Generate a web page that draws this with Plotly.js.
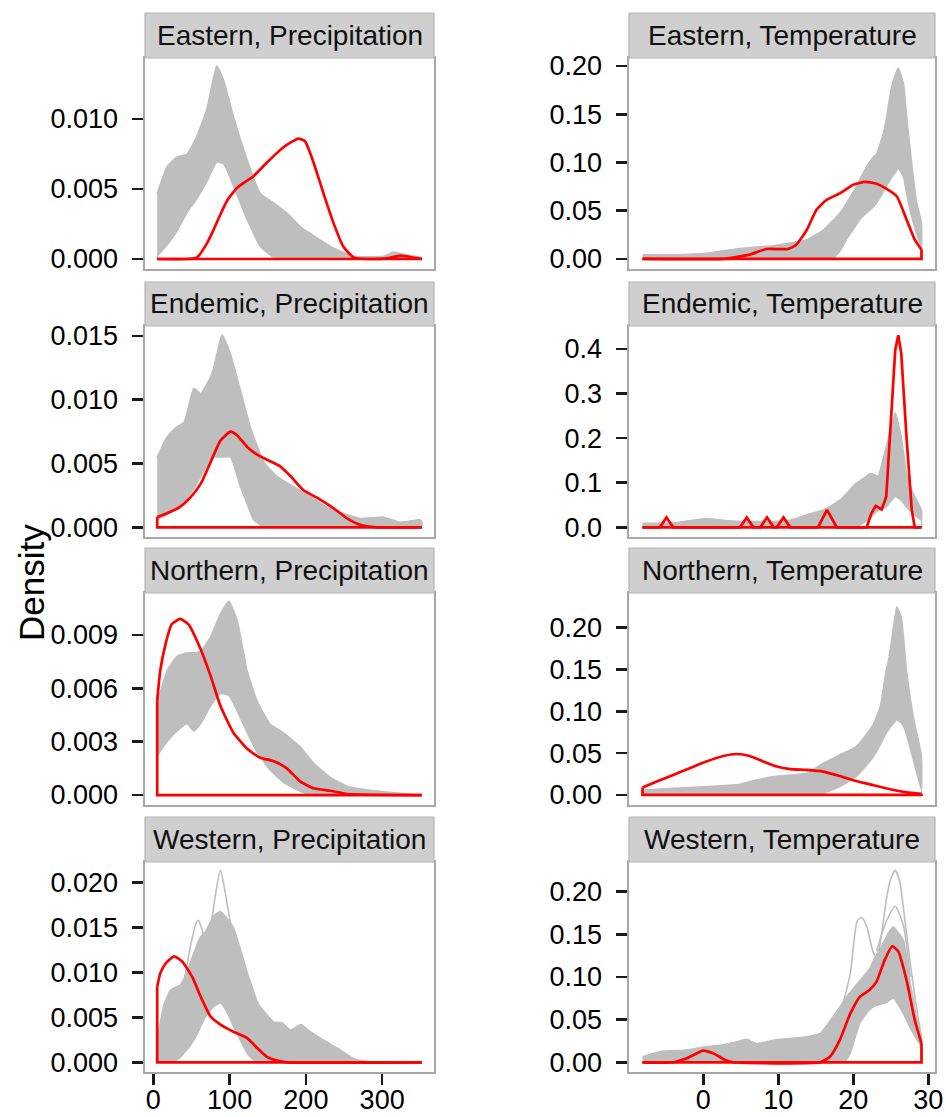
<!DOCTYPE html>
<html><head><meta charset="utf-8">
<script src="https://cdn.plot.ly/plotly-3.0.1.min.js"></script>
<style>html,body{margin:0;padding:0;background:#fff}#chart{width:946px;height:1117px}</style>
</head><body><div id="chart"></div>
<script>
// ---------- DATA ----------
const stripLabels = ["Eastern, Precipitation","Eastern, Temperature","Endemic, Precipitation","Endemic, Temperature","Northern, Precipitation","Northern, Temperature","Western, Precipitation","Western, Temperature"];
const yAxisTitle = "Density";
const precipTicks = [0,100,200,300];
const tempTicks = [0,10,20,30];

// Eastern, Precipitation
const epX = [5,18,31,44,57,70,83,92,105,123,140,158,175,193,215,236,263,302,315,332,352];
const epUpper = [0.0047,0.0066,0.0073,0.0075,0.0088,0.0107,0.0138,0.0128,0.0102,0.0071,0.0047,0.0040,0.0033,0.0023,0.0015,0.0008,0.0002,0.0002,0.0005,0.0003,0.0001];
const epLower = [0.0002,0.0010,0.0020,0.0033,0.0043,0.0055,0.0069,0.0068,0.0052,0.0028,0.0009,0.0001,0,0,0,0,0,0,0,0,0];
const epRedX = [5,44,57,70,79,88,97,110,120,131,149,171,190,199,210,223,236,249,263,290,306,324,340,352];
const epRedY = [0,0,0.0001,0.0011,0.0021,0.0032,0.0042,0.0051,0.0055,0.0059,0.0069,0.0080,0.0086,0.0084,0.0069,0.0047,0.0026,0.0009,0.0001,0,0.00005,0.00024,0.0001,0];

// Eastern, Temperature
const etX = [-8.1,-4,0.4,4.9,9.3,11.6,13.8,16,17.3,18.2,19.1,20.4,20.9,21.8,22.7,23.1,24,24.4,25.1,25.8,26,26.7,27.1,27.6,28.4,29.1];
const etUpper = [0.0045,0.0045,0.006,0.011,0.0138,0.0165,0.020,0.030,0.040,0.0475,0.058,0.075,0.083,0.096,0.106,0.109,0.130,0.145,0.178,0.195,0.198,0.182,0.150,0.113,0.061,0.037];
const etLower = [0,0,0,0,0,0,0,0,0,0.008,0.020,0.035,0.041,0.048,0.054,0.058,0.069,0.075,0.084,0.092,0.094,0.085,0.068,0.050,0.027,0.013];
const etRedX = [-8.1,2.7,4,6.2,8.4,11.3,12.4,13.8,15.1,16.4,18.2,20,21.6,23.1,24.4,25.8,27.1,28.2,29.1];
const etRedY = [0,0,0.0014,0.0045,0.0103,0.0103,0.0148,0.030,0.051,0.061,0.068,0.077,0.080,0.078,0.073,0.065,0.041,0.020,0.0096];

// Endemic, Precipitation
const dpX = [5,18,31,40,53,62,75,79,90,101,114,127,131,145,162,184,206,227,249,271,302,324,348,352];
const dpUpper = [0.0055,0.0071,0.0079,0.0082,0.0109,0.0105,0.0118,0.0125,0.0151,0.0136,0.0108,0.0079,0.0072,0.0051,0.0040,0.0032,0.0024,0.0016,0.0011,0.0007,0.0008,0.0004,0.0006,0.0005];
const dpLower = [0.0006,0.0010,0.0016,0.0020,0.0030,0.0040,0.0052,0.0055,0.0055,0.0055,0.0032,0.0012,0.0006,0,0,0,0,0,0,0,0,0,0,0];
const dpRedX = [5,18,35,48,62,75,88,101,110,123,136,149,166,180,197,215,236,254,271,293,352];
const dpRedY = [0.0008,0.0011,0.0016,0.0023,0.0034,0.0051,0.0068,0.0075,0.0072,0.0063,0.0057,0.0053,0.0048,0.0040,0.0029,0.0023,0.0015,0.0007,0.0002,0,0];

// Endemic, Temperature
const dtX = [-8.1,-4,0.4,3.1,7.1,11.6,13.8,16,18.2,20.4,21.8,22.2,23.1,23.3,24.4,25.6,26.4,26.7,27.1,28,29.1];
const dtUpper = [0.009,0.010,0.020,0.015,0.013,0.016,0.028,0.039,0.061,0.099,0.115,0.121,0.116,0.114,0.181,0.257,0.203,0.170,0.121,0.076,0.039];
const dtLower = [0,0,0,0,0,0,0,0,0,0,0.015,0.020,0.035,0.037,0.046,0.069,0.060,0.054,0.045,0.031,0.016];
const dtRedX = [-8.1,-5.8,-4.9,-4,4.9,5.8,6.7,7.6,8.5,9.4,9.8,10.7,11.6,15.3,16.5,17.8,21.8,22.4,23,23.8,24.4,25.1,25.6,26,26.4,27.1,27.8,28.2,29.1];
const dtRedY = [0,0,0.022,0,0,0.022,0,0,0.022,0,0,0.022,0,0,0.039,0,0,0.031,0.048,0.040,0.069,0.256,0.398,0.431,0.390,0.203,0.039,0,0];

// Northern, Precipitation
const npX = [5,18,31,44,53,62,75,88,99,110,123,136,153,171,193,210,232,254,280,324,352];
const npUpper = [0.0052,0.0070,0.0078,0.0080,0.0080,0.0081,0.0089,0.0102,0.0109,0.0098,0.0070,0.0053,0.0040,0.0035,0.0027,0.0018,0.0010,0.0005,0.0003,0.0001,0];
const npLower = [0.0022,0.0030,0.0036,0.0040,0.0036,0.0040,0.0050,0.0057,0.0056,0.0047,0.0035,0.0024,0.0014,0.0007,0.0002,0,0,0,0,0,0];
const npRedX = [5,9,16,24,35,46,62,75,88,105,123,140,158,175,193,210,232,254,352];
const npRedY = [0.0053,0.0070,0.0085,0.0096,0.0099,0.0096,0.0082,0.0067,0.0050,0.0035,0.0026,0.0021,0.0019,0.0015,0.00075,0.00038,0.00024,0.00006,0];

// Northern, Temperature
const ntX = [-8.1,-4,0.4,4.9,7.1,9.3,13.8,16,18.2,20.4,22.2,22.7,23.6,24.4,24.7,25.6,25.8,26.4,26.7,27.1,28,29.1];
const ntUpper = [0.006,0.008,0.010,0.013,0.018,0.022,0.026,0.038,0.048,0.058,0.078,0.085,0.106,0.150,0.161,0.215,0.225,0.213,0.190,0.149,0.094,0.046];
const ntLower = [0,0,0,0,0,0,0,0.002,0.010,0.022,0.040,0.046,0.060,0.074,0.078,0.088,0.090,0.086,0.082,0.072,0.042,0.006];
const ntRedX = [-8.1,-6.2,-4,-1.8,0.4,2.7,4.4,6.2,8,9.8,11.6,13.8,16,18.2,20.4,22.7,24.9,27.1,29.1];
const ntRedY = [0.0088,0.016,0.024,0.032,0.040,0.0466,0.049,0.0466,0.040,0.034,0.031,0.030,0.028,0.0227,0.0167,0.0116,0.0068,0.0032,0.0012];

// Western, Precipitation
const wpX = [5,14,22,27,35,44,48,59,62,68,77,79,88,97,105,118,123,127,136,140,158,169,180,193,206,223,241,263,280,352];
const wpUpper = [0.0025,0.0065,0.0080,0.0083,0.0086,0.0100,0.0110,0.0135,0.0140,0.0145,0.0160,0.0163,0.0168,0.0160,0.0150,0.0115,0.0100,0.0090,0.0068,0.0062,0.0045,0.0044,0.0036,0.0042,0.0034,0.0025,0.0016,0.0004,0.0001,0];
const wpLower = [0,0,0,0.0001,0.0005,0.0014,0.0018,0.0034,0.0040,0.0050,0.0060,0.0062,0.0066,0.0055,0.0040,0.0018,0.0010,0.0006,0,0,0,0,0,0,0,0,0,0,0,0];
const wpSpikeAX = [40,55,65,75,82,88,94,100,108,118,130,145];
const wpSpikeAY = [0.0040,0.0080,0.0110,0.0150,0.0190,0.0214,0.0190,0.0160,0.0120,0.0080,0.0050,0.0020];
const wpSpikeBX = [30,40,50,56,59,63,68,75];
const wpSpikeBY = [0.0050,0.0090,0.0135,0.0155,0.0158,0.0150,0.0138,0.0145];
const wpRedX = [5,9,16,27,38,51,62,75,88,105,123,136,149,162,175,352];
const wpRedY = [0.0084,0.0099,0.0110,0.0118,0.0112,0.0095,0.0073,0.0051,0.0042,0.0034,0.0027,0.0016,0.0006,0.0002,0,0];

// Western, Temperature
const wtX = [-8.1,-5.8,-2.2,0,2.2,4.4,5.8,7.1,9.3,11.6,13.8,15.6,17.3,18.2,19.1,19.6,20.9,22.2,22.7,24,24.4,25.3,26.7,27.6,28,28.4,29.1];
const wtUpper = [0.0066,0.0125,0.0145,0.018,0.020,0.024,0.027,0.022,0.026,0.028,0.030,0.034,0.0535,0.065,0.077,0.082,0.096,0.110,0.120,0.140,0.147,0.159,0.143,0.0925,0.075,0.0535,0.030];
const wtLower = [0,0,0,0,0,0,0,0,0,0,0,0,0,0,0.003,0.0105,0.046,0.062,0.065,0.069,0.070,0.075,0.057,0.040,0.034,0.028,0.018];
const wtSpikeAX = [17.3,18.2,19.6,20.5,21.1,21.8,22.7,23.5,24.4,25.3];
const wtSpikeAY = [0.045,0.057,0.104,0.165,0.170,0.159,0.128,0.120,0.135,0.150];
const wtSpikeBX = [22.7,23.6,24.4,25.0,25.6,26.2,26.7,27.4,28,28.6,29.1];
const wtSpikeBY = [0.110,0.140,0.190,0.215,0.225,0.212,0.180,0.130,0.090,0.055,0.030];
const wtSpikeCX = [23.1,24.4,25.6,26.7,27.6];
const wtSpikeCY = [0.130,0.165,0.183,0.160,0.100];
const wtRedX = [-8.1,-4,-2.2,0,1.3,3.1,4,15.6,16.9,18.2,19.6,20.9,22.2,23.1,24.2,25.2,26,27.1,28.2,29.1];
const wtRedY = [0,0,0.0047,0.0137,0.0105,0.002,0,0,0.0066,0.026,0.057,0.077,0.085,0.0945,0.120,0.136,0.130,0.0965,0.0496,0.022];

// ---------- BUILD ----------
const panels = [
  {x:epX,u:epUpper,l:epLower,rx:epRedX,ry:epRedY,spikes:[],yr:[-0.000714,0.01436],dt:0.005,fmt:'.3f',smooth:true},
  {x:etX,u:etUpper,l:etLower,rx:etRedX,ry:etRedY,spikes:[],yr:[-0.0104,0.2083],dt:0.05,fmt:'.2f',smooth:true},
  {x:dpX,u:dpUpper,l:dpLower,rx:dpRedX,ry:dpRedY,spikes:[],yr:[-0.00076,0.01578],dt:0.005,fmt:'.3f',smooth:true},
  {x:dtX,u:dtUpper,l:dtLower,rx:dtRedX,ry:dtRedY,spikes:[],yr:[-0.0218,0.4516],dt:0.1,fmt:'.1f',smooth:false},
  {x:npX,u:npUpper,l:npLower,rx:npRedX,ry:npRedY,spikes:[],yr:[-0.00056,0.01136],dt:0.003,fmt:'.3f',smooth:true},
  {x:ntX,u:ntUpper,l:ntLower,rx:ntRedX,ry:ntRedY,spikes:[],yr:[-0.012,0.2415],dt:0.05,fmt:'.2f',smooth:true},
  {x:wpX,u:wpUpper,l:wpLower,rx:wpRedX,ry:wpRedY,spikes:[[wpSpikeAX,wpSpikeAY],[wpSpikeBX,wpSpikeBY]],yr:[-0.00108,0.0223],dt:0.005,fmt:'.3f',smooth:true},
  {x:wtX,u:wtUpper,l:wtLower,rx:wtRedX,ry:wtRedY,spikes:[[wtSpikeAX,wtSpikeAY],[wtSpikeBX,wtSpikeBY],[wtSpikeCX,wtSpikeCY]],yr:[-0.0114,0.2348],dt:0.05,fmt:'.2f',smooth:true}
];

const W = 946, H = 1117;
const colPx = [[145,434],[629,935]];
const rowPx = [[58,269],[326,537],[593,805],[862,1072]];
const stripPx = [[13,58],[282,326],[548,593],[817,862]];
const xRanges = [[-11,368],[-9.9,30.9]];
const GRAY = '#bebebe', RED = '#ff0000';
const FONT = 'Liberation Sans, Arial, sans-serif';

const traces = [];
const layout = {
  width: W, height: H, margin: {l:0,r:0,t:0,b:0},
  paper_bgcolor: '#fff', plot_bgcolor: '#fff', showlegend: false,
  font: {family: FONT, color: '#000'},
  shapes: [], annotations: []
};

panels.forEach((p, i) => {
  const r = Math.floor(i/2), c = i % 2;
  const n = i + 1;
  const xa = 'x' + (n === 1 ? '' : n), ya = 'y' + (n === 1 ? '' : n);
  const last = p.x.length - 1;
  // gray band (envelope of the null-model densities)
  traces.push({x: p.x.concat(p.x.slice().reverse()), y: p.u.concat(p.l.slice().reverse()),
    xaxis: xa, yaxis: ya, mode: 'lines', fill: 'toself', fillcolor: GRAY,
    line: {color: GRAY, width: 1.4, shape: 'spline', smoothing: 0.45}, hoverinfo: 'skip'});
  traces.push({x: [p.x[0], p.x[0], p.x[last], p.x[last]], y: [p.l[0], 0, 0, p.l[last]],
    xaxis: xa, yaxis: ya, mode: 'lines', line: {color: GRAY, width: 1.4}, hoverinfo: 'skip'});
  p.spikes.forEach(s => {
    traces.push({x: s[0], y: s[1], xaxis: xa, yaxis: ya, mode: 'lines',
      line: {color: GRAY, width: 1.6, shape: 'spline', smoothing: 0.6}, hoverinfo: 'skip'});
  });
  // red observed density
  const rl = p.rx.length - 1;
  traces.push({x: p.rx, y: p.ry, xaxis: xa, yaxis: ya, mode: 'lines',
    line: p.smooth ? {color: RED, width: 2.7, shape: 'spline', smoothing: 0.5} : {color: RED, width: 2.7},
    hoverinfo: 'skip'});
  traces.push({x: [p.rx[rl], p.rx[rl], p.rx[0], p.rx[0]], y: [p.ry[rl], 0, 0, p.ry[0]],
    xaxis: xa, yaxis: ya, mode: 'lines', line: {color: RED, width: 2.7}, hoverinfo: 'skip'});

  const bottom = r === 3;
  layout['xaxis' + (n === 1 ? '' : n)] = {
    domain: [colPx[c][0]/W, colPx[c][1]/W], range: xRanges[c], anchor: ya,
    showline: true, mirror: true, linecolor: '#a8a8a8', linewidth: 1.6,
    showgrid: false, zeroline: false,
    ticks: bottom ? 'outside' : '', tickvals: c === 0 ? precipTicks : tempTicks,
    ticklen: 11, tickwidth: 2.6, tickcolor: '#1a1a1a',
    showticklabels: bottom, ticklabelstandoff: -8,
    tickfont: {family: FONT, size: 27, color: '#000'}
  };
  layout['yaxis' + (n === 1 ? '' : n)] = {
    domain: [1 - rowPx[r][1]/H, 1 - rowPx[r][0]/H], range: p.yr, anchor: xa,
    showline: true, mirror: true, linecolor: '#a8a8a8', linewidth: 1.6,
    showgrid: false, zeroline: false,
    ticks: 'outside', tick0: 0, dtick: p.dt, tickformat: p.fmt,
    ticklen: 11, tickwidth: 2.6, tickcolor: '#1a1a1a', ticklabelstandoff: 9,
    tickfont: {family: FONT, size: 27, color: '#000'}
  };
  // facet strip
  layout.shapes.push({type: 'rect', xref: 'paper', yref: 'paper',
    x0: colPx[c][0]/W, x1: colPx[c][1]/W,
    y0: 1 - stripPx[r][1]/H, y1: 1 - stripPx[r][0]/H,
    fillcolor: '#cfcfcf', line: {color: '#b5b5b5', width: 1.2}});
  layout.annotations.push({xref: 'paper', yref: 'paper',
    x: (colPx[c][0] + colPx[c][1]) / 2 / W, y: 1 - (stripPx[r][0] + stripPx[r][1]) / 2 / H,
    text: stripLabels[i], showarrow: false, xanchor: 'center', yanchor: 'middle',
    font: {family: FONT, size: 28, color: '#111'}});
});

layout.annotations.push({xref: 'paper', yref: 'paper', x: 31/W, y: 1 - 583/H,
  text: yAxisTitle, textangle: -90, showarrow: false, xanchor: 'center', yanchor: 'middle',
  font: {family: FONT, size: 35, color: '#000'}});

Plotly.newPlot('chart', traces, layout, {staticPlot: true, displayModeBar: false});
</script>
</body></html>
